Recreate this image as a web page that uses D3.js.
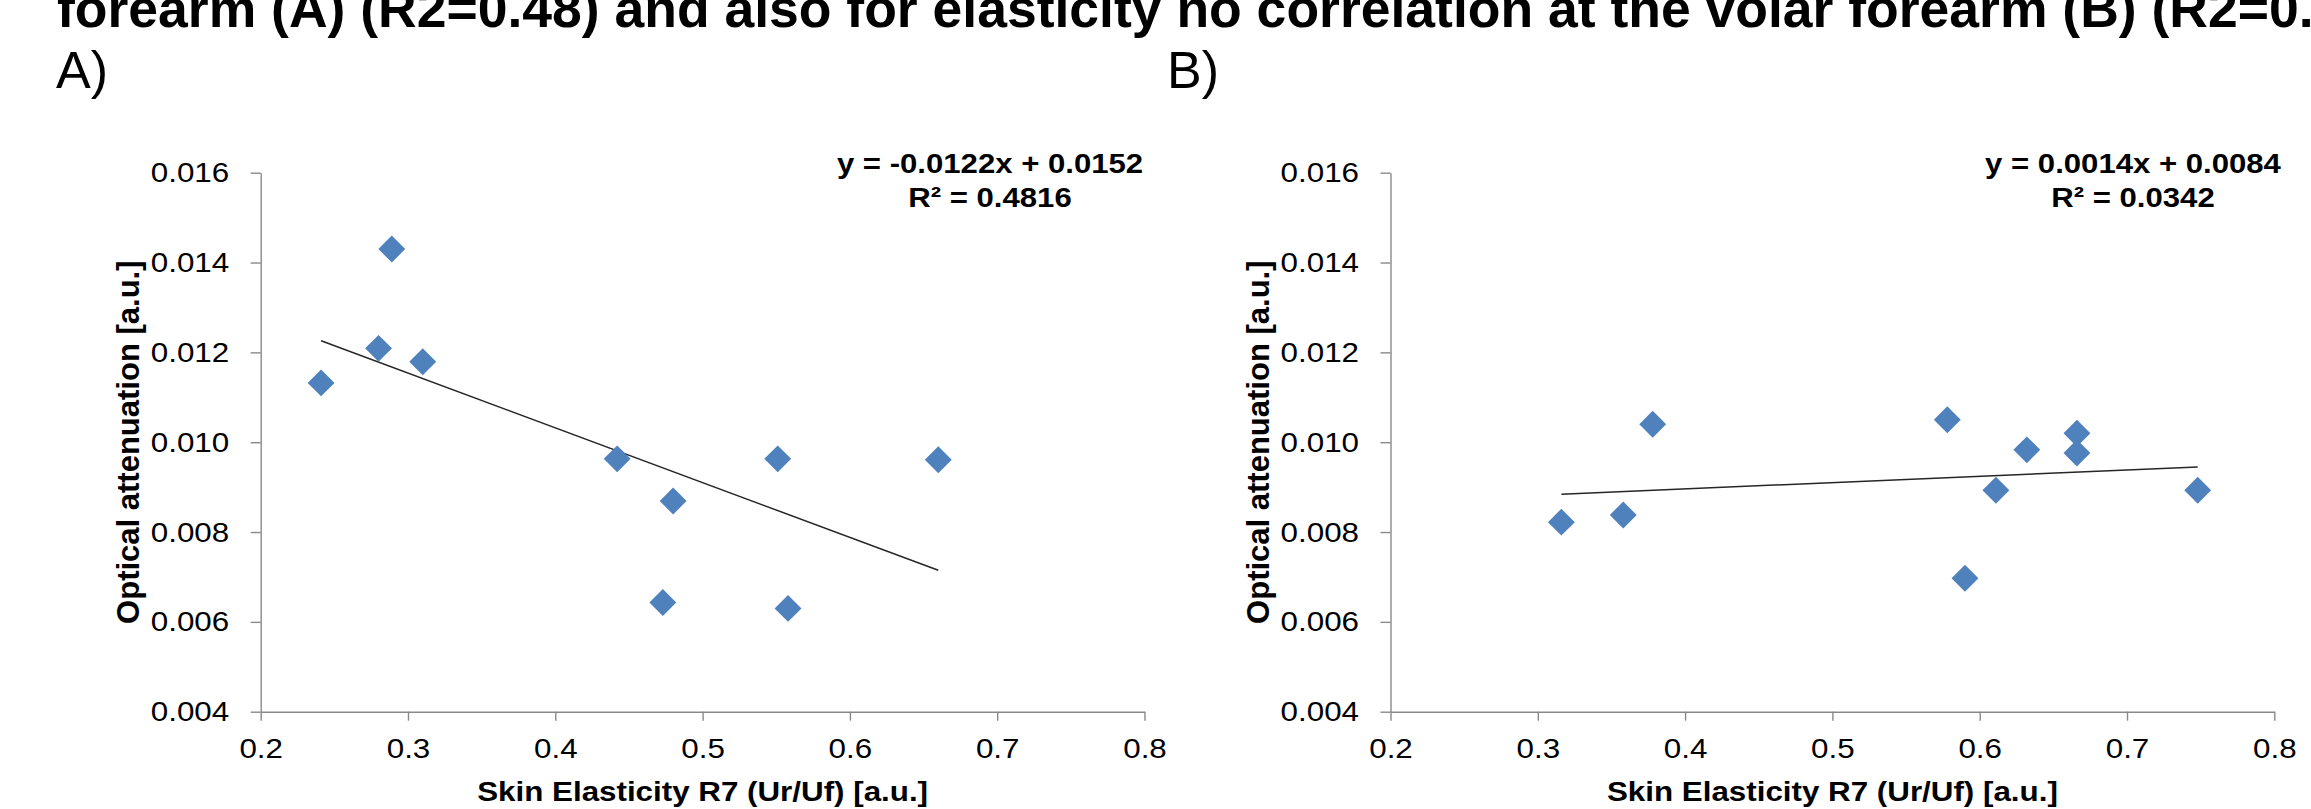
<!DOCTYPE html>
<html>
<head>
<meta charset="utf-8">
<script src="https://cdn.jsdelivr.net/npm/d3@7"></script>
<style>
  body { margin: 0; background: #fff; overflow: hidden; }
  svg text { font-family: "Liberation Sans", Arial, sans-serif; fill: #000; }
</style>
</head>
<body>
<div id="chart"></div>
<script>
// valores
const xA = [0.241, 0.280, 0.289, 0.310, 0.442, 0.480, 0.473, 0.551, 0.558, 0.660];
const yA = [0.01132, 0.01209, 0.01430, 0.01179, 0.00963, 0.00869, 0.00643, 0.00963, 0.00630, 0.00961];
const xB = [0.316, 0.358, 0.378, 0.578, 0.590, 0.611, 0.632, 0.666, 0.666, 0.748];
const yB = [0.00822, 0.00838, 0.01040, 0.01050, 0.00697, 0.00893, 0.00983, 0.01020, 0.00976, 0.00893];
const trendA = [-0.0122, 0.0152];  // pendiente, intercepto
const trendB = [0.0014, 0.0084];
const eqA = ["y = -0.0122x + 0.0152", "R² = 0.4816"];
const eqB = ["y = 0.0014x + 0.0084", "R² = 0.0342"];
const xTicks = [0.2, 0.3, 0.4, 0.5, 0.6, 0.7, 0.8];
const yTicks = [0.004, 0.006, 0.008, 0.010, 0.012, 0.014, 0.016];
const panelLabels = ["A)", "B)"];
const titleText = "forearm (A) (R2=0.48) and also for elasticity no correlation at the volar forearm (B) (R2=0.03)";
const xTitle = "Skin Elasticity R7 (Ur/Uf)  [a.u.]";
const yTitle = "Optical attenuation [a.u.]";

const W = 2311, H = 809;
const stretch = 1.1; // la imagen original está algo estirada en horizontal

const svg = d3.select("#chart")
  .append("svg")
  .attr("width", W)
  .attr("height", H);

// título cortado arriba
svg.append("text")
  .attr("x", 57)
  .attr("y", 27)
  .style("font-size", "53.5px")
  .style("font-weight", "bold")
  .text(titleText);

const y = d3.scaleLinear().domain([0.004, 0.016]).range([711.7, 172.7]);

function stretchText(sel) {
  sel.each(function() {
    const t = d3.select(this);
    const tx = +t.attr("x") || 0;
    const ty = +t.attr("y") || 0;
    t.attr("x", 0).attr("y", 0)
      .attr("transform", `translate(${tx},${ty}) scale(${stretch},1)`);
  });
}

function drawPanel(offset, xs, ys, trend, eq, eqX, label, labelX) {
  const x = d3.scaleLinear().domain([0.2, 0.8]).range([260.7 + offset, 1144.5 + offset]);

  svg.append("text")
    .attr("x", labelX)
    .attr("y", 88)
    .style("font-size", "52px")
    .text(label);

  // ejes
  const gx = svg.append("g")
    .attr("transform", `translate(0,${y.range()[0]})`)
    .call(d3.axisBottom(x).tickValues(xTicks).tickFormat(d3.format(".1f"))
      .tickSize(9).tickSizeOuter(0).tickPadding(17));

  const gy = svg.append("g")
    .attr("transform", `translate(${x.range()[0]},0)`)
    .call(d3.axisLeft(y).tickValues(yTicks).tickFormat(d3.format(".3f"))
      .tickSize(10).tickSizeOuter(0).tickPadding(21.5));

  [gx, gy].forEach(g => {
    g.select(".domain").attr("stroke", "#898989").attr("stroke-width", 1.4);
    g.selectAll(".tick line").attr("stroke", "#898989").attr("stroke-width", 1.4);
    g.selectAll(".tick text")
      .attr("fill", "#000")
      .style("font-size", "28.5px")
      .style("font-family", '"Liberation Sans", Arial, sans-serif')
      .call(stretchText);
  });

  // títulos de ejes
  svg.append("text")
    .attr("transform", `translate(${(x.range()[0] + x.range()[1]) / 2},801) scale(${stretch},1)`)
    .attr("text-anchor", "middle")
    .style("font-size", "28.5px")
    .style("font-weight", "bold")
    .text(xTitle);

  svg.append("text")
    .attr("transform", `translate(${139 + offset},${(y.range()[0] + y.range()[1]) / 2}) rotate(-90)`)
    .attr("text-anchor", "middle")
    .style("font-size", "31px")
    .style("font-weight", "bold")
    .text(yTitle);

  // línea de tendencia
  const ext = d3.extent(xs);
  svg.append("path")
    .datum(ext)
    .attr("fill", "none")
    .attr("stroke", "#262626")
    .attr("stroke-width", 1.5)
    .attr("d", d3.line().x(d => x(d)).y(d => y(trend[0] * d + trend[1])));

  // puntos
  const pts = xs.map((v, i) => [v, ys[i]]);
  svg.append("g")
    .selectAll("path")
    .data(pts)
    .enter()
    .append("path")
    .attr("d", d3.symbol(d3.symbolSquare, 361))
    .attr("transform", d => `translate(${x(d[0])},${y(d[1])}) rotate(45)`)
    .attr("fill", "#4F81BD");

  // ecuación
  svg.append("g")
    .selectAll("text")
    .data(eq)
    .enter()
    .append("text")
    .attr("transform", (d, i) => `translate(${eqX},${172.7 + i * 34.6}) scale(${stretch},1)`)
    .attr("text-anchor", "middle")
    .style("font-size", "28.3px")
    .style("font-weight", "bold")
    .text(d => d);
}

drawPanel(0, xA, yA, trendA, eqA, 990, panelLabels[0], 56);
drawPanel(1129.8, xB, yB, trendB, eqB, 2133, panelLabels[1], 1167);
</script>
</body>
</html>
